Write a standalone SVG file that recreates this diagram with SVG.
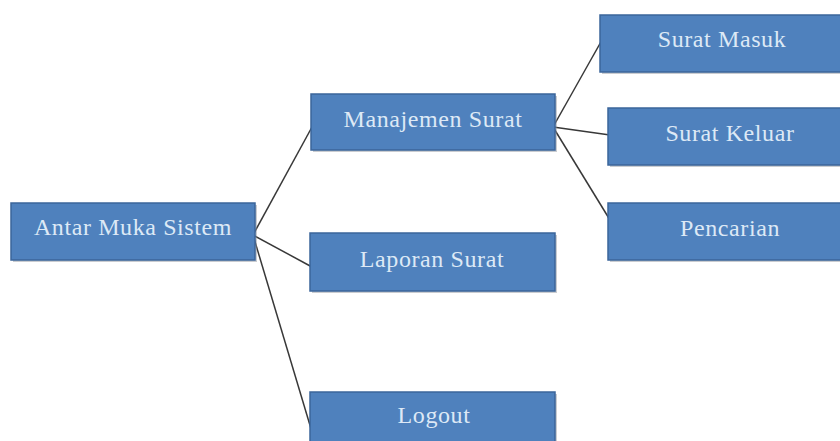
<svg xmlns="http://www.w3.org/2000/svg" width="840" height="441" viewBox="0 0 840 441">
  <style>
    .box { fill: #4f81bd; stroke: #3b659a; stroke-width: 1.5; }
    .shadow { fill: #8a8f96; opacity: 0.45; }
    .label { font-family: "Liberation Serif", "Times New Roman", serif; font-size: 24px; letter-spacing: 0.6px; fill: #dde9f6; text-anchor: middle; }
    .edge { stroke: #383838; stroke-width: 1.5; fill: none; }
  </style>
  <rect width="840" height="441" fill="#ffffff"/>

  <g id="connectors">
    <line class="edge" x1="253" y1="235" x2="312" y2="127"/>
    <line class="edge" x1="253" y1="235" x2="312" y2="267"/>
    <line class="edge" x1="253" y1="235" x2="312" y2="432"/>
    <line class="edge" x1="553" y1="127" x2="602" y2="40"/>
    <line class="edge" x1="553" y1="127" x2="610" y2="135"/>
    <line class="edge" x1="553" y1="127" x2="610" y2="220"/>
  </g>

  <g id="antar-muka-sistem">
    <rect class="shadow" x="13" y="205" width="244" height="57"/>
    <rect class="box" x="11" y="203" width="244" height="57"/>
    <text class="label" x="133" y="235">Antar Muka Sistem</text>
  </g>

  <g id="manajemen-surat">
    <rect class="shadow" x="313" y="96" width="244" height="56"/>
    <rect class="box" x="311" y="94" width="244" height="56"/>
    <text class="label" x="433" y="127">Manajemen Surat</text>
  </g>

  <g id="laporan-surat">
    <rect class="shadow" x="312" y="235" width="245" height="58"/>
    <rect class="box" x="310" y="233" width="245" height="58"/>
    <text class="label" x="432" y="267">Laporan Surat</text>
  </g>

  <g id="logout">
    <rect class="shadow" x="312" y="394" width="245" height="58"/>
    <rect class="box" x="310" y="392" width="245" height="58"/>
    <text class="label" x="434" y="423">Logout</text>
  </g>

  <g id="surat-masuk">
    <rect class="shadow" x="602" y="17" width="244" height="57"/>
    <rect class="box" x="600" y="15" width="244" height="57"/>
    <text class="label" x="722" y="47">Surat Masuk</text>
  </g>

  <g id="surat-keluar">
    <rect class="shadow" x="610" y="110" width="244" height="57"/>
    <rect class="box" x="608" y="108" width="244" height="57"/>
    <text class="label" x="730" y="141">Surat Keluar</text>
  </g>

  <g id="pencarian">
    <rect class="shadow" x="610" y="205" width="244" height="57"/>
    <rect class="box" x="608" y="203" width="244" height="57"/>
    <text class="label" x="730" y="236">Pencarian</text>
  </g>
</svg>
